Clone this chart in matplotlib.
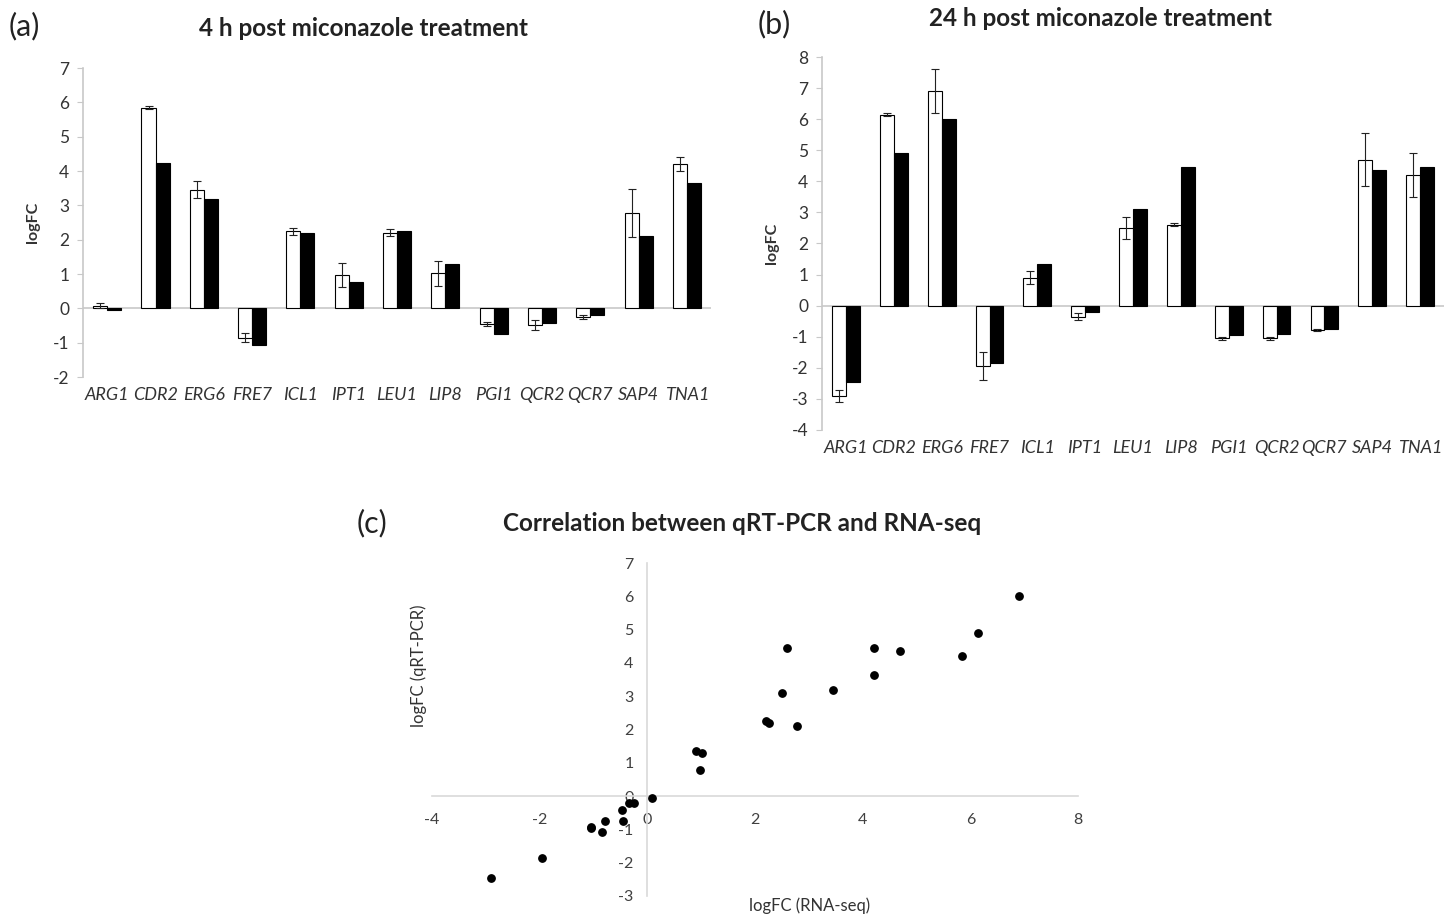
import matplotlib
matplotlib.use("Agg")
import matplotlib.pyplot as plt
import numpy as np

plt.rcParams['font.family'] = ['Lato', 'DejaVu Sans']
plt.rcParams['axes.unicode_minus'] = False

# --------------------------
# Data
# --------------------------
genes = ["ARG1", "CDR2", "ERG6", "FRE7", "ICL1", "IPT1", "LEU1",
         "LIP8", "PGI1", "QCR2", "QCR7", "SAP4", "TNA1"]

# 4 h: white bars (with error) and black bars
h4_white = [0.08, 5.85, 3.45, -0.85, 2.25, 0.98, 2.20, 1.02, -0.45, -0.48, -0.25, 2.78, 4.20]
h4_white_err = [0.08, 0.05, 0.25, 0.12, 0.10, 0.35, 0.10, 0.37, 0.05, 0.15, 0.05, 0.70, 0.20]
h4_black = [-0.05, 4.22, 3.18, -1.08, 2.20, 0.78, 2.25, 1.30, -0.75, -0.43, -0.20, 2.10, 3.65]

# 24 h
h24_white = [-2.90, 6.15, 6.90, -1.95, 0.90, -0.35, 2.50, 2.60, -1.05, -1.05, -0.78, 4.70, 4.20]
h24_white_err = [0.20, 0.05, 0.70, 0.45, 0.20, 0.12, 0.35, 0.05, 0.05, 0.04, 0.02, 0.85, 0.70]
h24_black = [-2.45, 4.90, 6.00, -1.85, 1.35, -0.20, 3.10, 4.45, -0.95, -0.92, -0.75, 4.35, 4.45]

AXIS_GRAY = "#c8c8c8"
TEXT_COL = "#333333"


def bar_panel(ax, white, white_err, black, ylim, yticks):
    x = np.arange(len(genes))
    w = 0.29
    ax.bar(x - w / 2, white, w, color="white", edgecolor="black", linewidth=0.8,
           yerr=white_err, error_kw=dict(ecolor="#222222", elinewidth=0.8, capsize=3, capthick=0.8),
           zorder=3)
    ax.bar(x + w / 2, black, w, color="black", edgecolor="black", linewidth=0.8, zorder=3)
    ax.axhline(0, color=AXIS_GRAY, linewidth=1.2, zorder=1)
    ax.set_xlim(-0.5, len(genes) - 0.5)
    ax.set_ylim(*ylim)
    ax.set_yticks(yticks)
    ax.set_xticks(x)
    ax.set_xticklabels(genes, fontstyle="italic", fontsize=13, color=TEXT_COL)
    ax.tick_params(axis="x", length=0, pad=7)
    ax.tick_params(axis="y", length=4, color=AXIS_GRAY, labelsize=12.5, labelcolor=TEXT_COL, pad=6)
    for s in ["top", "right", "bottom"]:
        ax.spines[s].set_visible(False)
    ax.spines["left"].set_color(AXIS_GRAY)
    ax.spines["left"].set_linewidth(1.2)
    ax.set_ylabel("logFC", fontsize=11.5, fontweight="bold", color=TEXT_COL, labelpad=9)


fig = plt.figure(figsize=(14.44, 9.18), dpi=100)

# --------------------------
# (a) 4 h
# --------------------------
ax_a = fig.add_axes([0.0575, 0.5893, 0.435, 0.3366])
bar_panel(ax_a, h4_white, h4_white_err, h4_black, (-2, 7), range(-2, 8))
fig.text(0.2514, 0.969, "4 h post miconazole treatment", ha="center", va="center",
         fontsize=17.5, fontweight="bold", color="#222222")
fig.text(0.006, 0.972, "(a)", ha="left", va="center", fontsize=22, color="#222222")

# --------------------------
# (b) 24 h
# --------------------------
ax_b = fig.add_axes([0.5693, 0.5316, 0.4307, 0.4063])
bar_panel(ax_b, h24_white, h24_white_err, h24_black, (-4, 8), range(-4, 9))
fig.text(0.762, 0.980, "24 h post miconazole treatment", ha="center", va="center",
         fontsize=17.5, fontweight="bold", color="#222222")
fig.text(0.525, 0.974, "(b)", ha="left", va="center", fontsize=22, color="#222222")

# --------------------------
# (c) correlation (white vs black values)
# --------------------------
rna_seq = h4_white + h24_white
qrt_pcr = h4_black + h24_black

ax_c = fig.add_axes([0.2992, 0.0240, 0.4474, 0.3627])
ax_c.scatter(rna_seq, qrt_pcr, s=28, color="black", zorder=3)
ax_c.set_xlim(-4, 8)
ax_c.set_ylim(-3, 7)
ax_c.set_xticks(range(-4, 9, 2))
ax_c.set_yticks(range(-3, 8))
ax_c.spines["left"].set_position(("data", 0))
ax_c.spines["bottom"].set_position(("data", 0))
for s in ["top", "right"]:
    ax_c.spines[s].set_visible(False)
for s in ["left", "bottom"]:
    ax_c.spines[s].set_color("#d9d9d9")
    ax_c.spines[s].set_linewidth(1.2)
ax_c.tick_params(length=0, labelsize=11.5, labelcolor="#404040")
ax_c.tick_params(axis="x", pad=12)
ax_c.tick_params(axis="y", pad=10)
ax_c.text(0.585, -0.03, "logFC (RNA-seq)", transform=ax_c.transAxes, ha="center", va="center",
          fontsize=12, color="#333333")
ax_c.text(-0.02, 0.69, "logFC (qRT-PCR)", transform=ax_c.transAxes, ha="center", va="center",
          rotation=90, fontsize=12, color="#333333")
fig.text(0.514, 0.430, "Correlation between qRT-PCR and RNA-seq", ha="center", va="center",
         fontsize=17.5, fontweight="bold", color="#222222")
fig.text(0.247, 0.430, "(c)", ha="left", va="center", fontsize=22, color="#222222")

fig.savefig("out.png", dpi=100)
